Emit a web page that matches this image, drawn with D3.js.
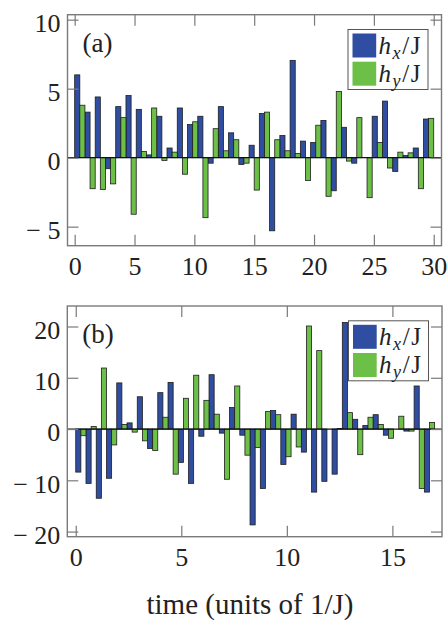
<!DOCTYPE html>
<html>
<head>
<meta charset="utf-8">
<script src="https://cdn.jsdelivr.net/npm/d3@7"></script>
<style>
  body { margin: 0; background: #fff; }
  svg { display: block; }
  text { font-family: "Liberation Serif", "Times New Roman", serif; fill: #222; }
</style>
</head>
<body>
<svg id="chart" width="447" height="623"></svg>
<script>
// values: 35 (h_x, h_y) pairs per panel
const hxA = [6.0, 3.3, 4.4, -0.8, 3.7, 4.5, 3.5, 0.2, 3.0, 0.7, 3.6, 2.4, 3.0, -0.4, 3.7, 1.8, -0.5,
             0.9, 3.2, -5.3, 1.6, 7.05, 1.2, 1.1, 2.7, -2.4, 2.2, -0.4, 0, 3.0, 4.1, -1.0, 0.15, 0.7, 2.8];
const hyA = [3.8, -2.25, -2.3, -1.9, 2.9, -4.1, 0.45, 3.6, -0.2, 0.4, -1.2, 2.6, -4.35, 2.1, 0.5, 1.3, -0.4,
             -2.35, 3.3, 1.3, 0.5, 0.3, -1.65, 2.35, -2.8, 4.8, -0.25, 2.9, -2.9, 1.1, -0.75, 0.4, 0.35, -2.25, 2.85];
const hxB = [-8.4, -10.6, -13.5, -9.6, 9.0, 1.2, 6.3, -3.8, 7.1, 9.1, -6.5, -10.6, -1.4, 10.6, -0.8, 4.2, -1.2,
             -18.7, -11.6, 3.6, -6.9, 2.9, -4.5, -12.3, -10.2, -8.8, 20.8, 1.9, 0.7, 2.8, -1.2, 0, -0.4, 8.4, -12.3];
const hyB = [-1.3, 0.5, 11.9, -3.1, 0.9, -0.6, -2.3, -4.2, 2.3, -8.8, 6.0, 10.5, 5.6, 2.9, -9.8, 8.4, -5.1,
             -3.6, 3.4, 2.8, -5.4, -3.5, 20.1, 15.3, 0, 0.1, 3.2, -5.0, 2.3, 0.9, -1.8, 2.5, -0.4, -11.6, 1.3];

const tEndA = 30, tEndB = 17;           // last time of each panel
const xTicksA = [0, 5, 10, 15, 20, 25, 30];
const yTicksA = [-5, 0, 5, 10];
const xTicksB = [0, 5, 10, 15];
const yTicksB = [-20, -10, 0, 10, 20];
const seriesNames = ["x", "y"];
const panelLabels = ["(a)", "(b)"];

const colors = { x: "#2f4ea1", y: "#6cbf47" };
const frameColor = "#7a7a7a";

const svg = d3.select("#chart");

// minus sign set apart from the number, as in the figure
const fmtTick = d => d < 0 ? "\u2212 " + Math.abs(d) : String(d);

function drawPanel(opt) {
  const x = d3.scaleLinear().domain(opt.xDomain).range([opt.left, opt.right]);
  const y = d3.scaleLinear().domain(opt.yDomain).range([opt.bottom, opt.top]);
  const g = svg.append("g");
  const step = opt.tEnd / opt.hx.length;

  // bars: h_x in the first half of each step, h_y in the second
  const pairs = opt.hx.map((v, i) => ({ i: i, hx: v, hy: opt.hy[i] }));
  [["hx", 0, colors.x], ["hy", 0.5, colors.y]].forEach(([key, off, col]) => {
    g.selectAll("rect." + key)
      .data(pairs)
      .enter().append("rect")
      .attr("class", key)
      .attr("x", d => x((d.i + off) * step))
      .attr("width", d => x((d.i + off + 0.5) * step) - x((d.i + off) * step))
      .attr("y", d => y(Math.max(0, d[key])))
      .attr("height", d => Math.abs(y(d[key]) - y(0)))
      .attr("fill", col)
      .attr("stroke", "#1e1e1e")
      .attr("stroke-width", 0.8);
  });

  // zero line
  g.append("line")
    .attr("x1", opt.left).attr("x2", opt.right)
    .attr("y1", y(0)).attr("y2", y(0))
    .attr("stroke", "#111").attr("stroke-width", 1.3);

  // axes, ticks pointing inward on all sides
  const tick = 11;
  const axB = g.append("g").attr("transform", `translate(0,${opt.bottom})`)
    .call(d3.axisBottom(x).tickValues(opt.xTicks).tickSize(-tick).tickPadding(11));
  const axT = g.append("g").attr("transform", `translate(0,${opt.top})`)
    .call(d3.axisTop(x).tickValues(opt.xTicks).tickSize(-tick).tickFormat(""));
  const axL = g.append("g").attr("transform", `translate(${opt.left},0)`)
    .call(d3.axisLeft(y).tickValues(opt.yTicks).tickSize(-tick).tickPadding(7).tickFormat(fmtTick));
  const axR = g.append("g").attr("transform", `translate(${opt.right},0)`)
    .call(d3.axisRight(y).tickValues(opt.yTicks).tickSize(-tick).tickFormat(""));

  [axB, axT, axL, axR].forEach(a => {
    a.select(".domain").remove();
    a.selectAll(".tick line").attr("stroke", frameColor).attr("stroke-width", 1.2);
    a.selectAll("text").attr("font-size", 26).attr("fill", "#222")
      .style("font-family", '"Liberation Serif", serif')
      .style("white-space", "pre");
  });
  axL.selectAll("text").attr("dy", "0.45em");

  // frame
  g.append("rect")
    .attr("x", opt.left).attr("y", opt.top)
    .attr("width", opt.right - opt.left).attr("height", opt.bottom - opt.top)
    .attr("fill", "none").attr("stroke", frameColor).attr("stroke-width", 1.4);

  // panel label
  g.append("text")
    .attr("x", opt.left + 15).attr("y", opt.top + 37)
    .attr("font-size", 27)
    .text(opt.label);

  // legend
  const lw = 80, lh = 60;
  const lx = opt.right - 13.5 - lw, ly = opt.top + 14.8;
  const lg = g.append("g").attr("transform", `translate(${lx},${ly})`);
  lg.append("rect").attr("width", lw).attr("height", lh)
    .attr("fill", "#fff").attr("stroke", "#555").attr("stroke-width", 1);
  seriesNames.forEach((s, k) => {
    lg.append("rect")
      .attr("x", 4.5).attr("y", 4 + k * 28.2)
      .attr("width", 23.7).attr("height", 24)
      .attr("fill", colors[s]);
    const t = lg.append("text")
      .attr("x", 30.5).attr("y", 24.5 + k * 27.5)
      .attr("font-size", 25)
      .attr("letter-spacing", 1.6);
    t.append("tspan").attr("font-style", "italic").text("h");
    t.append("tspan").attr("font-style", "italic").attr("font-size", 18).attr("dy", 5).text(s);
    t.append("tspan").attr("dy", -5).text("/J");
  });
}

drawPanel({
  hx: hxA, hy: hyA, tEnd: tEndA, xTicks: xTicksA, yTicks: yTicksA,
  xDomain: [-0.6, 30.65], yDomain: [-6.38, 10.36],
  left: 67.5, right: 441.5, top: 14.7, bottom: 245.7, label: panelLabels[0]
});

drawPanel({
  hx: hxB, hy: hyB, tEnd: tEndB, xTicks: xTicksB, yTicks: yTicksB,
  xDomain: [-0.4, 17.35], yDomain: [-21, 24],
  left: 67.3, right: 442, top: 306, bottom: 536.7, label: panelLabels[1]
});

// shared x-axis title
svg.append("text")
  .attr("x", 250).attr("y", 614)
  .attr("text-anchor", "middle")
  .attr("font-size", 29)
  .text("time (units of 1/J)");
</script>
</body>
</html>
